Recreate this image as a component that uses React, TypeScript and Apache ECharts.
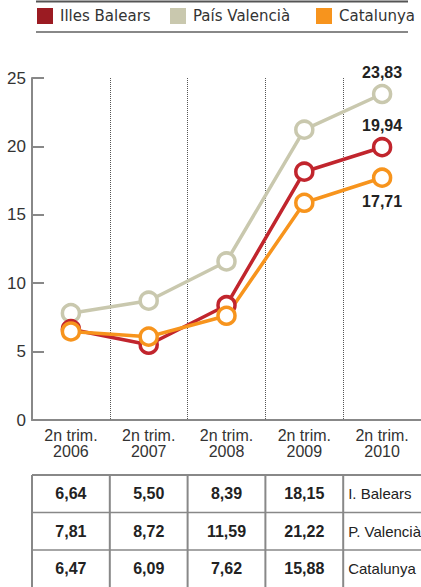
import React, { useEffect, useRef } from "react";
import * as echarts from "echarts";

const categories = ["2n trim.\n2006", "2n trim.\n2007", "2n trim.\n2008", "2n trim.\n2009", "2n trim.\n2010"];
const seriesNames = ["Illes Balears", "País Valencià", "Catalunya"];
const balears = [6.64, 5.5, 8.39, 18.15, 19.94];
const valencia = [7.81, 8.72, 11.59, 21.22, 23.83];
const catalunya = [6.47, 6.09, 7.62, 15.88, 17.71];
const tableRowLabels = ["I. Balears", "P. Valencià", "Catalunya"];
const yTicks = [0, 5, 10, 15, 20, 25];

const lineColors = ["#c1252d", "#c9c8ae", "#f7941d"];
const legendColors = ["#9b1b22", "#c9c8ae", "#f7941d"];

const fmt = (v: number) => v.toFixed(2).replace(".", ",");

export default function App() {
  const ref = useRef<HTMLDivElement>(null);
  useEffect(() => {
    const chart = echarts.init(ref.current!, null, { renderer: "svg" });
    const dataSets = [balears, valencia, catalunya];
    const labelPos = ["top", "top", "bottom"];
    const labelDist = [3, 3, 6];
    const order = [1, 0, 2];
    const series = order.map((i) => ({
      name: seriesNames[i],
      type: "line",
      data: dataSets[i].map((v, j) =>
        j === dataSets[i].length - 1
          ? {
              value: v,
              label: {
                show: true,
                position: labelPos[i],
                distance: labelDist[i],
                formatter: fmt(v),
                fontFamily: "Liberation Sans",
                fontWeight: "bold",
                fontSize: 16,
                color: "#222",
              },
            }
          : v
      ),
      symbol: "circle",
      symbolSize: 17,
      showAllSymbol: true,
      lineStyle: { color: lineColors[i], width: 3.5 },
      itemStyle: { color: "#fff", borderColor: lineColors[i], borderWidth: 3.5 },
    }));
    const legendLefts = [37, 170, 316];
    const option: any = {
      animation: false,
      legend: seriesNames.map((n, i) => ({
        data: [{ name: n, itemStyle: { color: legendColors[i], borderWidth: 0 } }],
        left: legendLefts[i],
        top: 8,
        padding: 0,
        icon: "rect",
        itemWidth: 16,
        itemHeight: 16,
        selectedMode: false,
        textStyle: { fontFamily: "DejaVu Sans", fontSize: 15, color: "#333", padding: [0, 0, 0, 2] },
      })),
      grid: { left: 32, top: 78, width: 390, height: 342, containLabel: false },
      xAxis: {
        type: "category",
        data: categories,
        boundaryGap: true,
        axisLine: { lineStyle: { color: "#888", width: 2 } },
        axisTick: { show: false },
        axisLabel: {
          margin: 7,
          fontFamily: "Liberation Sans",
          fontSize: 16,
          lineHeight: 16,
          color: "#333",
        },
        splitLine: { show: true, lineStyle: { color: "#555", type: "dotted", width: 1 } },
      },
      yAxis: {
        type: "value",
        min: yTicks[0],
        max: yTicks[yTicks.length - 1],
        interval: 5,
        axisLine: { show: true, lineStyle: { color: "#888", width: 2 } },
        axisTick: { show: true, inside: true, length: 12, lineStyle: { color: "#888", width: 2 } },
        axisLabel: { margin: 6, fontFamily: "Liberation Sans", fontSize: 17, color: "#333" },
        splitLine: { show: false },
      },
      series,
    };
    chart.setOption(option);

    const centers = categories.map((_, i) => chart.convertToPixel({ xAxisIndex: 0 }, i) as number);
    const colW = centers[1] - centers[0];
    const bounds = centers.map((c) => c - colW / 2);
    const tableTop = 475;
    const rowH = 37.5;
    const tableBottom = 590;
    const graphics: any[] = [
      { type: "line", shape: { x1: 36, y1: 1.5, x2: 408, y2: 1.5 }, style: { stroke: "#555", lineWidth: 2 } },
      { type: "line", shape: { x1: 36, y1: 32, x2: 408, y2: 32 }, style: { stroke: "#888", lineWidth: 2 } },
    ];
    for (let r = 0; r < 3; r++) {
      const y = tableTop + r * rowH;
      graphics.push({
        type: "line",
        shape: { x1: bounds[0], y1: y, x2: 421, y2: y },
        style: { stroke: "#888", lineWidth: r === 0 ? 2 : 1.5 },
      });
    }
    for (let c = 0; c < 5; c++) {
      graphics.push({
        type: "line",
        shape: { x1: bounds[c], y1: tableTop, x2: bounds[c], y2: tableBottom },
        style: { stroke: "#888", lineWidth: 2 },
      });
    }
    dataSets.forEach((ds, r) => {
      const cy = tableTop + r * rowH + rowH / 2;
      for (let c = 0; c < 4; c++) {
        graphics.push({
          type: "text",
          x: centers[c],
          y: cy,
          style: {
            text: fmt(ds[c]),
            align: "center",
            verticalAlign: "middle",
            fontFamily: "Liberation Sans",
            fontWeight: "bold",
            fontSize: 16,
            fill: "#222",
          },
        });
      }
      graphics.push({
        type: "text",
        x: bounds[4] + 5,
        y: cy,
        style: {
          text: tableRowLabels[r],
          align: "left",
          verticalAlign: "middle",
          fontFamily: "Liberation Sans",
          fontSize: 15,
          fill: "#222",
        },
      });
    });
    chart.setOption({ graphic: graphics });
    return () => chart.dispose();
  }, []);
  return <div ref={ref} style={{ width: 421, height: 587, position: "absolute", left: 0, top: 0 }} />;
}
